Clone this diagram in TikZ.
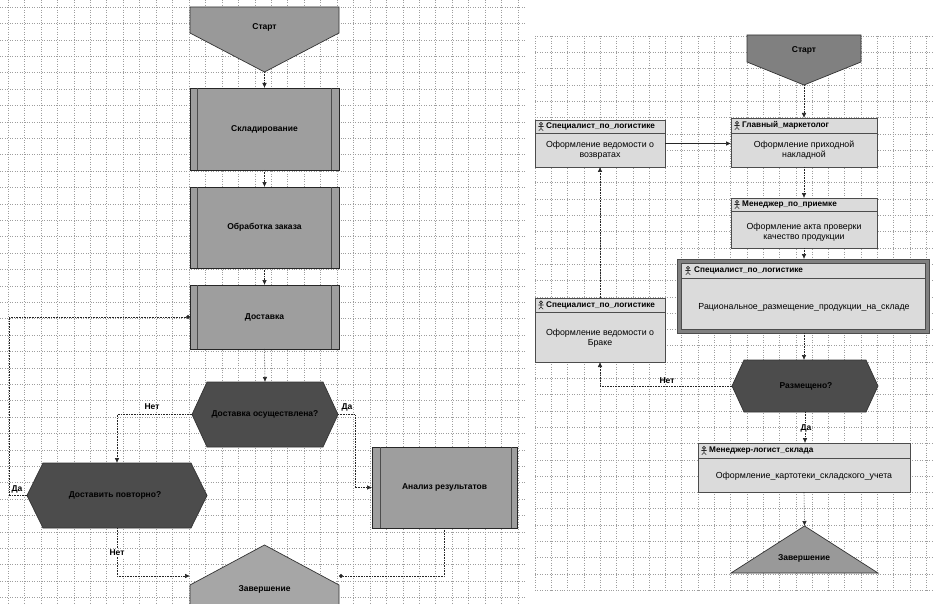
\documentclass[tikz,border=0pt]{standalone}
\usepackage{fontspec}
\setmainfont{Liberation Sans}
\usetikzlibrary{arrows.meta,calc}
\newcommand\myLfont{\fontsize{8.5}{10}\selectfont\bfseries}
\newcommand\myRfont{\fontsize{8.8}{10}\selectfont}
\newcommand\myHfont{\fontsize{8.2}{9.5}\selectfont\bfseries}
\begin{document}
\begin{tikzpicture}[x=1pt,y=-1pt,
 gridl/.style={black!38, dotted, line width=0.45pt},
 hid/.style={inner sep=0pt, outer sep=0pt, anchor=north west},
 lbox/.style={hid, draw=black!85, line width=0.9pt, fill=black!38, font=\myLfont},
 inl/.style={draw=black!70, line width=0.6pt},
 rbox/.style={hid, draw=black!70, line width=0.6pt, fill=black!14},
 shp/.style={draw=black!80, line width=0.7pt},
 conn/.style={draw=black!85, line width=0.6pt, densely dotted, -{Latex[length=5pt,width=4.5pt]}},
 sconn/.style={draw=black!85, line width=0.6pt, -{Latex[length=5pt,width=4.5pt]}},
 dotconn/.style={draw=black!85, line width=0.6pt, densely dotted, -{Circle[length=4pt]}},
 lt/.style={font=\myLfont, inner sep=0pt},
 rt/.style={font=\myHfont, inner sep=0pt, anchor=west},
 rb/.style={font=\myRfont, inner sep=0pt, align=center},
 lbl/.style={font=\myLfont, inner sep=1pt},
 ico/.pic={\draw[black!85, line width=0.6pt] (0,-2.6) circle (1.5pt) (0,-1.1)--(0,2) (-2.6,0)--(2.6,0) (0,2)--(-2.2,4.2) (0,2)--(2.2,4.2);}
]
\useasboundingbox (0,0) rectangle (933,604);
\clip (0,0) rectangle (933,604);
\fill[white] (0,0) rectangle (933,604);
% grids
\foreach \i in {0,...,31} \draw[gridl] ({8+16.45*\i},0) -- ({8+16.45*\i},604);
\foreach \j in {0,...,36} \draw[gridl] (0,{7+16.4*\j}) -- (526,{7+16.4*\j});
\foreach \i in {0,...,24} \draw[gridl] ({535+16.3*\i},36) -- ({535+16.3*\i},590);
\foreach \j in {0,...,34} \draw[gridl] (535,{36+16.3*\j}) -- (933,{36+16.3*\j});

% ---------- left diagram ----------
\node[hid, minimum width=149pt, minimum height=65pt] (s1) at (190,7) {};
\filldraw[shp, fill=black!40] (190,7)--(339,7)--(339,33)--(264.5,72)--(190,33)--cycle;
\node[lt] (s1t) at (264.5,27) {Старт};

\node[lbox, minimum width=149pt, minimum height=82pt] (b1) at (190,88) {Складирование};
\draw[inl] (197,88)--(197,170) (331,88)--(331,170);
\node[lbox, minimum width=149pt, minimum height=81pt] (b2) at (190,187) {Обработка заказа};
\draw[inl] (197,187)--(197,268) (331,187)--(331,268);
\node[lbox, minimum width=149pt, minimum height=64pt] (b3) at (190,285) {Доставка};
\draw[inl] (197,285)--(197,349) (331,285)--(331,349);

\node[hid, minimum width=146pt, minimum height=65pt] (d1) at (192,382) {};
\filldraw[shp, fill=black!70] (207,382)--(323,382)--(338,414.5)--(323,447)--(207,447)--(192,414.5)--cycle;
\node[lt] (d1t) at (265,414.5) {Доставка осуществлена?};

\node[hid, minimum width=180pt, minimum height=65pt] (d2) at (27,463) {};
\filldraw[shp, fill=black!70] (43,463)--(191,463)--(207,495.5)--(191,528)--(43,528)--(27,495.5)--cycle;
\node[lt] (d2t) at (115,495.5) {Доставить повторно?};

\node[lbox, minimum width=145pt, minimum height=81pt] (b4) at (372,447) {Анализ результатов};
\draw[inl] (380,447)--(380,528) (511,447)--(511,528);

\node[hid, minimum width=149pt, minimum height=62pt] (e1) at (190,545) {};
\filldraw[shp, fill=black!35] (264.5,545)--(339,585)--(339,612)--(190,612)--(190,585)--cycle;
\node[lt] (e1t) at (264.5,589) {Завершение};

\draw[conn] (s1.south) -- (b1.north);
\draw[conn] (b1.south) -- (b2.north);
\draw[conn] (b2.south) -- (b3.north);
\draw[conn] (b3.south) -- (d1.north);
\draw[conn] (d1.west) -| (d2.north);
\node[lbl] (n1) at (152,407) {Нет};
\draw[conn] (d1.east) -- ++(17,0) |- (b4.west);
\node[lbl] (y1) at (347,407) {Да};
\draw[dotconn] (d2.west) -- ++(-18,0) |- (b3.west);
\node[lbl] (y2) at (17,489) {Да};
\draw[conn] (d2.south) |- (e1.west);
\node[lbl, fill=white] (n2) at (117,553) {Нет};
\draw[dotconn] (b4.south) |- (e1.east);

% ---------- right diagram ----------
\node[hid, minimum width=114pt, minimum height=50pt] (s2) at (747,35) {};
\filldraw[shp, fill=black!50] (747,35)--(861,35)--(861,62)--(804,85)--(747,62)--cycle;
\node[lt] (s2t) at (804,50) {Старт};

\node[rbox, minimum width=130pt, minimum height=47pt] (r0) at (535,120) {};
\draw[inl] (535,133)--(665,133);
\pic at (541,126.5) {ico};
\node[rt] (r0h) at (546,126.5) {Специалист\_по\_логистике};
\node[rb] (r0b) at (600,150) {Оформление ведомости о\\возвратах};

\node[rbox, minimum width=146pt, minimum height=49pt] (r1) at (731,118) {};
\draw[inl] (731,133)--(877,133);
\pic at (737,125.5) {ico};
\node[rt] (r1h) at (742,125.5) {Главный\_маркетолог};
\node[rb] (r1b) at (804,150) {Оформление приходной\\накладной};

\node[rbox, minimum width=146pt, minimum height=50pt] (r2) at (731,198) {};
\draw[inl] (731,211)--(877,211);
\pic at (737,204.5) {ico};
\node[rt] (r2h) at (742,204.5) {Менеджер\_по\_приемке};
\node[rb] (r2b) at (804,232) {Оформление акта проверки\\качество продукции};

\node[rbox, fill=black!50, minimum width=252pt, minimum height=74pt] (r3) at (677,259) {};
\filldraw[fill=black!14, draw=black!70, line width=0.5pt] (681,263) rectangle (925,329);
\draw[inl] (681,278)--(925,278);
\pic at (688,270.5) {ico};
\node[rt] (r3h) at (694,270.5) {Специалист\_по\_логистике};
\node[rb] (r3b) at (804,307) {Рациональное\_размещение\_продукции\_на\_складе};

\node[rbox, minimum width=130pt, minimum height=64pt] (r4) at (535,298) {};
\draw[inl] (535,312)--(665,312);
\pic at (541,305) {ico};
\node[rt] (r4h) at (546,305) {Специалист\_по\_логистике};
\node[rb] (r4b) at (600,338) {Оформление ведомости о\\Браке};

\node[hid, minimum width=146pt, minimum height=52pt] (d3) at (732,360) {};
\filldraw[shp, fill=black!70] (744,360)--(866,360)--(878,386)--(866,412)--(744,412)--(732,386)--cycle;
\node[lt] (d3t) at (806,386) {Размещено?};

\node[rbox, minimum width=212pt, minimum height=49pt] (r5) at (698,443) {};
\draw[inl] (698,458)--(910,458);
\pic at (704,450.5) {ico};
\node[rt] (r5h) at (709,450.5) {Менеджер-логист\_склада};
\node[rb] (r5b) at (804,476) {Оформление\_картотеки\_складского\_учета};

\node[hid, minimum width=147pt, minimum height=47pt] (e2) at (731,526) {};
\filldraw[shp, fill=black!40] (804.5,526)--(878,573)--(731,573)--cycle;
\node[lt] (e2t) at (804,558) {Завершение};

\draw[conn] (s2.south) -- (r1.north);
\draw[sconn] (r0.east) -- (r1.west |- r0.east);
\draw[conn] (r1.south) -- (r2.north);
\draw[conn] (r2.south) -- (r2.south |- r3.north);
\draw[conn] (r2.south |- r3.south) -- (r2.south |- d3.north);
\draw[conn] (d3.west) -| (r4.south);
\node[lbl] (n3) at (667,381) {Нет};
\draw[conn] (r4.north) -- (r0.south);
\draw[conn] (d3.south) -- (d3.south |- r5.north);
\node[lbl, fill=white] (y3) at (806,428) {Да};
\draw[conn] (r5.south) -- (e2.north);
\end{tikzpicture}
\end{document}
